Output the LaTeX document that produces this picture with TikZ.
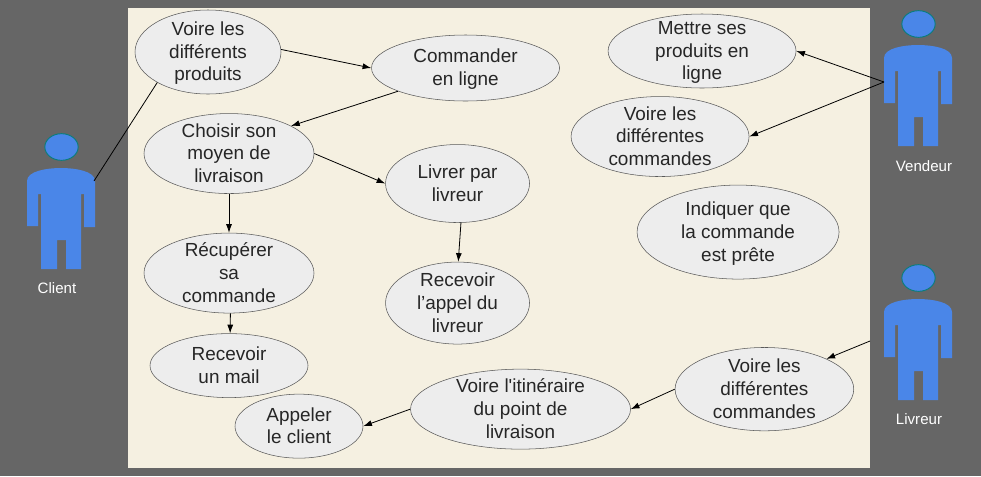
\documentclass[tikz,border=0pt]{standalone}
\usepackage{fontspec}
\setmainfont{Liberation Sans}
\usetikzlibrary{arrows.meta,positioning,shapes.geometric}
\newcommand{\casetop}{\rule{0pt}{14.5pt}}

\begin{document}
\begin{tikzpicture}[
  x=0.75pt, y=-0.75pt,
  >={Latex[length=6.5pt,width=4.5pt]},
  every node/.style={font=\fontsize{14.2pt}{17pt}\selectfont},
  usecase/.style 2 args={ellipse, draw=black!65, fill=black!7, text=black!85, inner sep=-15pt, align=center, minimum width=#1, minimum height=#2, execute at end node=\strut},
  actorlabel/.style={text=white, font=\fontsize{11.3pt}{13pt}\selectfont},
  link/.style={draw=black, line width=0.6pt},
  actor/.pic={
    \fill[actorblue] (0,13) .. controls (0,3) and (20,0) .. (34,0) .. controls (48,0) and (68,3) .. (68,13)
      -- (68,59) -- (57,59) -- (57,26) -- (54,26) -- (54,101) -- (39,101) -- (39,72) -- (30,72) -- (30,101)
      -- (14,101) -- (14,26) -- (11,26) -- (11,58) -- (0,58) -- cycle;
    \node[ellipse, draw=actorline, fill=actorblue, line width=0.7pt, inner sep=0pt, minimum width=25pt, minimum height=20pt] (-head) at (34.5,-21) {};
    \coordinate (-left) at (0,37);
    \coordinate (-right) at (67,13);
  }
]
\definecolor{actorblue}{HTML}{4A86E8}
\definecolor{actorline}{HTML}{0B7D7D}
\definecolor{pagegrey}{HTML}{666666}
\definecolor{cream}{HTML}{F5F0E1}

\useasboundingbox (0,0) rectangle (981,476);
\fill[pagegrey] (0,0) rectangle (981,476);
\fill[cream] (128,8) rectangle (870,468);

% client side
\node[usecase={109.5pt}{63pt}] (produits) at (208,52) {\casetop Voire les\\différents\\produits};
\node[usecase={141pt}{49.5pt}, right=67.5pt of produits, yshift=-12pt] (commander) {\casetop Commander\\en ligne};
\node[usecase={127.5pt}{60pt}, below=14.25pt of produits, xshift=15.75pt] (choisir) {\casetop Choisir son\\moyen de\\livraison};
\node[usecase={127.5pt}{60pt}, below=29.25pt of choisir] (recuperer) {\casetop Récupérer\\sa\\commande};
\node[usecase={118.5pt}{48pt}, below=15pt of recuperer] (mail) {\casetop Recevoir\\un mail};
\node[usecase={96pt}{48pt}, below=-3pt of mail, xshift=52.5pt] (appeler) {\casetop Appeler\\le client};
\node[usecase={108pt}{58.5pt}, right=53.25pt of choisir, yshift=-22.5pt] (livrer) {\casetop Livrer par\\livreur};
\node[usecase={108pt}{61.5pt}, below=29.25pt of livrer] (appel) {\casetop Recevoir\\l’appel du\\livreur};

% livreur side
\node[usecase={165pt}{60pt}, right=35.25pt of appeler, yshift=12.75pt] (itineraire) {\casetop Voire l\textquotesingle itinéraire\\du point de\\livraison};
\node[usecase={134pt}{62.5pt}, right=33pt of itineraire, yshift=15pt] (livcommandes) {\casetop Voire les\\différentes\\commandes};

% vendeur side
\node[usecase={141pt}{55.5pt}, right=36pt of commander, yshift=12.75pt] (mettre) {\casetop Mettre ses\\produits en\\ligne};
\node[usecase={133.5pt}{60pt}, below=6pt of mettre, xshift=-31.5pt] (vencommandes) {\casetop Voire les\\différentes\\commandes};
\node[usecase={151.5pt}{70.5pt}, below=6pt of vencommandes, xshift=58.5pt] (indiquer) {\casetop Indiquer que\\la commande\\est prête};

% actors
\pic (client) at (27,168) {actor};
\pic (vendeur) at (884,45) {actor};
\pic (livreur) at (884,299) {actor};
\node[actorlabel] (clientlabel) at (57,288) {Client};
\node[actorlabel] (vendeurlabel) at (924,166) {Vendeur};
\node[actorlabel] (livreurlabel) at (919,419) {Livreur};
\coordinate (livreurport) at (870,341);

\draw[link] (client-right) -- (produits.211);
\draw[link, ->] (produits.2) -- (commander.west);
\draw[link, ->] (commander.199) -- (choisir.24);
\draw[link, ->] (choisir.east) -- (livrer.west);
\draw[link, ->] (choisir.south) -- (recuperer.north);
\draw[link, ->] (recuperer.272) -- (mail.88);
\draw[link, ->] (livrer.275) -- (appel.89);
\draw[link, ->] (vendeur-left) -- (mettre.east);
\draw[link, ->] (vendeur-left) -- (vencommandes.east);
\draw[link, ->] (livreurport) -- (livcommandes.26);
\draw[link, ->] (livcommandes.west) -- (itineraire.east);
\draw[link, ->] (itineraire.west) -- (appeler.east);
\end{tikzpicture}
\end{document}
